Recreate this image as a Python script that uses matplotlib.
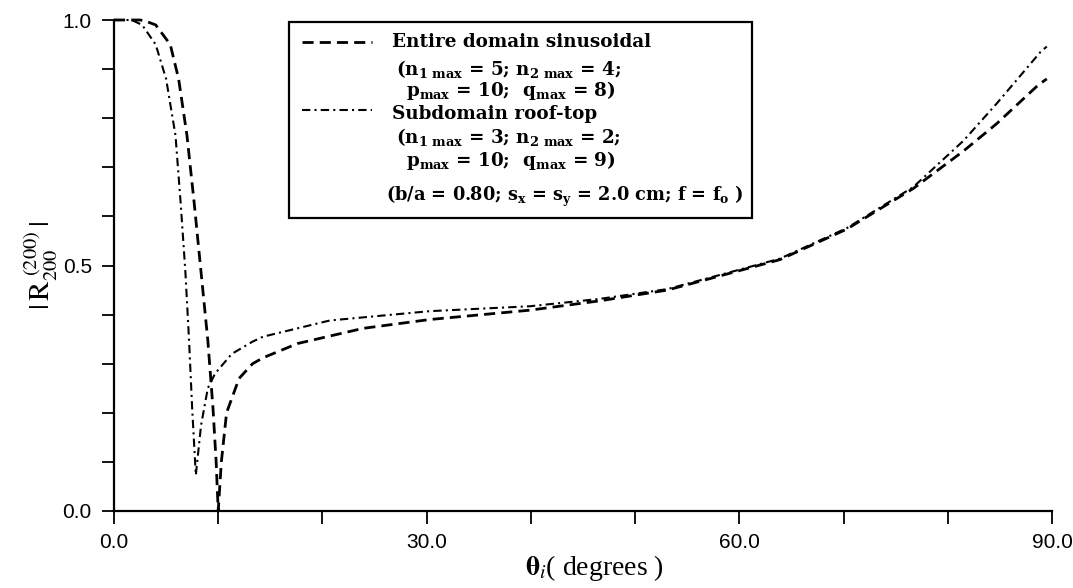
import matplotlib
matplotlib.use("Agg")
import matplotlib.pyplot as plt
from matplotlib.lines import Line2D
from matplotlib.patches import Rectangle
from matplotlib.ticker import MultipleLocator

# angle of incidence (degrees) and |R200| for the two basis choices
theta_entire = [0, 1, 2, 2.5, 3, 4.0, 5.4, 6.2, 7.0, 7.7, 8.35, 9.0, 9.5, 9.8, 10.0,
                10.3, 10.8, 12.0, 13.3, 14.3, 17.6, 23.9, 30.3, 39.9, 46.6, 53.1,
                59.4, 63.9, 70.3, 76.7, 81.5, 84.7, 88.7, 89.5]
r_entire = [1.0, 1.0, 1.0, 1.0, 0.998, 0.99, 0.95, 0.88, 0.765, 0.626, 0.487, 0.348,
            0.209, 0.10, 0.0, 0.10, 0.20, 0.27, 0.30, 0.312, 0.341, 0.372, 0.39,
            0.409, 0.428, 0.45, 0.486, 0.512, 0.574, 0.657, 0.733, 0.789, 0.868, 0.88]

theta_roof = [0, 1, 1.7, 2.7, 4.0, 5.0, 5.9, 6.4, 6.85, 7.2, 7.5, 7.85, 8.35, 9.0,
              9.7, 11.3, 13.3, 14.3, 20.7, 30.3, 39.9, 46.6, 53.1, 59.4, 63.9, 70.3,
              76.7, 81.5, 84.7, 88.9, 89.5]
r_roof = [1.0, 1.0, 1.0, 0.99, 0.95, 0.88, 0.765, 0.626, 0.487, 0.348, 0.209, 0.073,
          0.174, 0.25, 0.28, 0.32, 0.345, 0.355, 0.388, 0.407, 0.417, 0.432, 0.452,
          0.488, 0.514, 0.576, 0.66, 0.754, 0.83, 0.935, 0.946]

# legend text lines
entire_lines = ["Entire domain sinusoidal",
                r"(n$_{1\ \mathrm{max}}$ = 5; n$_{2\ \mathrm{max}}$ = 4;",
                r"p$_{\mathrm{max}}$ = 10;  q$_{\mathrm{max}}$ = 8)"]
roof_lines = ["Subdomain roof-top",
              r"(n$_{1\ \mathrm{max}}$ = 3; n$_{2\ \mathrm{max}}$ = 2;",
              r"p$_{\mathrm{max}}$ = 10;  q$_{\mathrm{max}}$ = 9)"]
params_line = r"(b/a = 0.80; s$_{\mathrm{x}}$ = s$_{\mathrm{y}}$ = 2.0 cm; f = f$_{\mathrm{o}}$ )"

plt.rcParams['mathtext.fontset'] = 'custom'
plt.rcParams['mathtext.rm'] = 'DejaVu Serif:bold'
plt.rcParams['mathtext.it'] = 'DejaVu Serif:bold'
plt.rcParams['mathtext.bf'] = 'DejaVu Serif:bold'

W, H = 1073, 588
fig = plt.figure(figsize=(W / 100, H / 100), dpi=100)
ax_left, ax_right, ax_top, ax_bottom = 114, 1052, 20, 511
ax = fig.add_axes([ax_left / W, 1 - ax_bottom / H,
                   (ax_right - ax_left) / W, (ax_bottom - ax_top) / H])

dash_style = (0, (4, 2.2))
dashdot_style = (0, (4, 2, 1, 2))

ax.plot(theta_entire, r_entire, color='black', lw=2.0, linestyle=dash_style, clip_on=False)
ax.plot(theta_roof, r_roof, color='black', lw=1.5, linestyle=dashdot_style, clip_on=False)

ax.set_xlim(0, 90)
ax.set_ylim(0, 1.0)
ax.spines['top'].set_visible(False)
ax.spines['right'].set_visible(False)
for s in ['left', 'bottom']:
    ax.spines[s].set_linewidth(1.6)

ax.xaxis.set_major_locator(MultipleLocator(30))
ax.xaxis.set_minor_locator(MultipleLocator(10))
ax.yaxis.set_major_locator(MultipleLocator(0.5))
ax.yaxis.set_minor_locator(MultipleLocator(0.1))
ax.xaxis.set_major_formatter(lambda v, p: f"{v:.1f}")
ax.yaxis.set_major_formatter(lambda v, p: f"{v:.1f}")
ax.tick_params(which='both', direction='out', length=9, width=1.3)
ax.tick_params(axis='both', which='major', labelsize=15, pad=7)
for lab in ax.get_xticklabels() + ax.get_yticklabels():
    lab.set_fontfamily('Liberation Sans')

ax_w = ax_right - ax_left
ax_h = ax_bottom - ax_top
ax.set_ylabel(r"$|\,\mathrm{R}_{200}^{\ (200)}\,|$", fontsize=21, math_fontfamily='stix')
ax.yaxis.set_label_coords((60 - ax_left) / ax_w, 0.5)
ax.set_xlabel(r"$\mathbf{\theta}_{i}$( degrees )", fontsize=20, family='Liberation Serif',
              math_fontfamily='stix')
ax.xaxis.set_label_coords((594 - ax_left) / ax_w, (ax_bottom - 553) / ax_h)


def fpos(x, y):
    return (x / W, 1 - y / H)


# legend box drawn by hand
x0, y0 = fpos(289, 218)
x1, y1 = fpos(752, 22)
fig.patches.append(Rectangle((x0, y0), x1 - x0, y1 - y0, transform=fig.transFigure,
                             fill=False, lw=1.6, edgecolor='black'))

tkw = dict(fontsize=13.2, family='DejaVu Serif', fontweight='bold',
           va='center', ha='left', transform=fig.transFigure)

sx0, sy = fpos(302, 42)
sx1, _ = fpos(372, 42)
fig.lines.append(Line2D([sx0, sx1], [sy, sy], transform=fig.transFigure,
                        color='black', lw=2.0, linestyle=dash_style))
sx0, sy = fpos(302, 110)
sx1, _ = fpos(372, 110)
fig.lines.append(Line2D([sx0, sx1], [sy, sy], transform=fig.transFigure,
                        color='black', lw=1.5, linestyle=dashdot_style))

for txt, (px, py) in zip(entire_lines, [(392, 42), (396, 69), (406, 91)]):
    fig.text(*fpos(px, py), txt, **tkw)
for txt, (px, py) in zip(roof_lines, [(392, 114), (396, 137), (406, 161)]):
    fig.text(*fpos(px, py), txt, **tkw)
fig.text(*fpos(386, 196), params_line, **dict(tkw, fontsize=12.8))

fig.savefig("out.png", dpi=100)
